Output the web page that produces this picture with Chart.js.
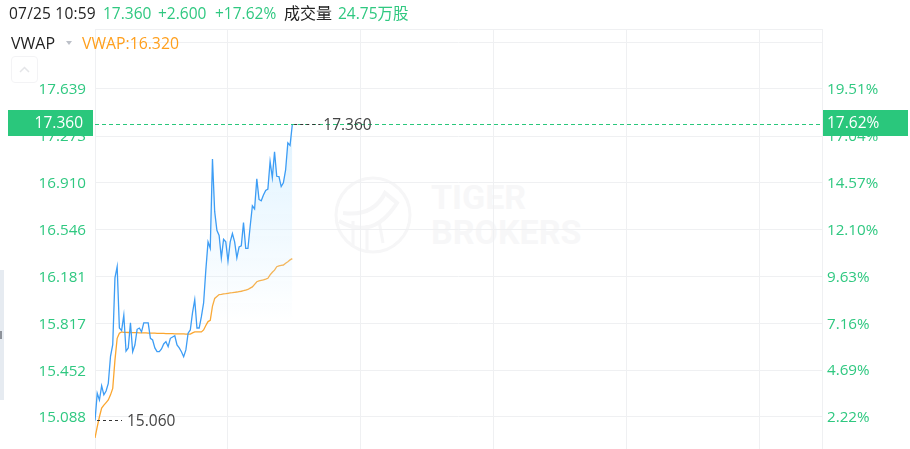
<!DOCTYPE html>
<html>
<head>
<meta charset="utf-8">
<script src="https://cdn.jsdelivr.net/npm/chart.js@4"></script>
<style>
  html, body { margin: 0; padding: 0; background: #fff; overflow: hidden; }
  body { width: 910px; height: 449px; position: relative; font-family: "Open Sans", "Noto Sans CJK SC", sans-serif; }
  canvas { position: absolute; left: 0; top: 0; }
  .abs { position: absolute; white-space: nowrap; line-height: 20px; }
  .head { top: 3px; font-size: 15.5px; color: #222; }
  .up { color: #2fc880; }
  #name { left: 11px; top: 33px; font-size: 16px; color: #222; }
  #vwap { left: 82px; top: 33px; font-size: 15.8px; color: #ff9f1c; }
  #caret { left: 66px; top: 41px; width: 0; height: 0; border: 3.5px solid transparent; border-top: 4px solid #bcc0c8; }
  #toggle { left: 11px; top: 56px; width: 25px; height: 25px; border: 1px solid #f3f3f5; border-radius: 4px; }
  #side { left: 0; top: 270px; width: 4px; height: 130px; background: #e6ebf1; }
  #notch { left: 0; top: 331px; width: 2px; height: 8px; background: #8d929a; }
  .mark { font-family: Roboto, sans-serif; font-weight: 700; font-size: 34px; letter-spacing: 0; color: #f7f7f8; line-height: 36px; }
</style>
</head>
<body>
<svg class="abs" style="left:333px;top:175px" width="82" height="82" fill="none" stroke="#f6f6f7" stroke-width="3">
  <circle cx="40" cy="40" r="37"/>
  <path d="M6 46 Q40 66 64 28 L52 18 Q40 42 10 38" stroke-width="4"/>
  <path d="M20 46 V72 M34 50 V76 M46 46 L50 68"/>
</svg>
<div class="abs mark" style="left:431px;top:179px">TIGER</div>
<div class="abs mark" style="left:431px;top:214px">BROKERS</div>
<canvas id="chart" width="910" height="449"></canvas>
<div class="abs head" style="left:9px;letter-spacing:0.2px">07/25 10:59</div>
<div class="abs head up" style="left:103px">17.360</div>
<div class="abs head up" style="left:158px">+2.600</div>
<div class="abs head up" style="left:215px">+17.62%</div>
<div class="abs head" style="left:284px;font-size:16px">成交量</div>
<div class="abs head up" style="left:338px">24.75万股</div>
<div class="abs" id="name">VWAP</div>
<div class="abs" id="caret"></div>
<div class="abs" id="vwap">VWAP:16.320</div>
<div class="abs" id="toggle">
  <svg width="25" height="25" fill="none" stroke="#e4e5e8" stroke-width="1.5"><path d="M8 15 L12.5 10.5 L17 15"/></svg>
</div>
<div class="abs" id="side"></div>
<div class="abs" id="notch"></div>
<script>
// minute by minute from the open
const prices = [
  15.06, 15.272, 15.22, 15.33, 15.26, 15.29, 15.35, 15.56, 15.65, 16.17,
  16.257, 15.78, 15.76, 15.88, 15.6, 15.625, 15.82, 15.596, 15.648, 15.77,
  15.78, 15.75, 15.82, 15.82, 15.82, 15.7, 15.687, 15.625, 15.596, 15.596,
  15.617, 15.656, 15.674, 15.635, 15.7, 15.71, 15.72, 15.648, 15.625, 15.596,
  15.557, 15.61, 15.74, 15.765, 15.9, 16.0, 15.78, 15.78, 15.868, 15.975,
  16.23, 16.45, 16.4, 17.095, 16.685, 16.54, 16.5, 16.325, 16.47, 16.45,
  16.3, 16.45, 16.515, 16.45, 16.325, 16.41, 16.42, 16.6, 16.4, 16.4,
  16.57, 16.73, 16.706, 16.94, 16.78, 16.77, 16.815, 16.85, 16.86, 17.075,
  16.95, 17.15, 16.96, 16.957, 16.88, 16.91, 17.01, 17.22, 17.2, 17.36
];
const vwapValues = [
  14.925, 15.012, 15.09, 15.158, 15.18, 15.2, 15.22, 15.26, 15.31, 15.53,
  15.7, 15.74, 15.75, 15.746, 15.746, 15.745, 15.745, 15.744, 15.744, 15.744,
  15.743, 15.743, 15.742, 15.742, 15.741, 15.741, 15.74, 15.74, 15.739, 15.739,
  15.738, 15.738, 15.737, 15.737, 15.736, 15.736, 15.735, 15.735, 15.734, 15.734,
  15.734, 15.733, 15.733, 15.733, 15.742, 15.75, 15.75, 15.75, 15.75, 15.765,
  15.8, 15.83, 15.84, 15.95, 16.01, 16.025, 16.04, 16.042, 16.045, 16.047,
  16.05, 16.053, 16.055, 16.058, 16.06, 16.063, 16.066, 16.07, 16.075, 16.08,
  16.09, 16.1, 16.12, 16.14, 16.146, 16.15, 16.154, 16.16, 16.167, 16.193,
  16.214, 16.23, 16.257, 16.263, 16.268, 16.27, 16.284, 16.296, 16.31, 16.32
];
const leftTicks = [15.088, 15.452, 15.817, 16.181, 16.546, 16.91, 17.273, 17.639, 18.003, 18.1056];
const leftLabels = ['15.088', '15.452', '15.817', '16.181', '16.546', '16.910', '17.273', '17.639', '', ''];
const rightTicks = [2.22, 4.69, 7.16, 9.63, 12.1, 14.57, 17.04, 19.51];
const rightLabels = ['2.22%', '4.69%', '7.16%', '9.63%', '12.10%', '14.57%', '17.04%', '19.51%'];
const timeTicks = [0, 60, 120, 180, 240, 300, 328];

const lastPrice = 17.36;
const lowPrice = 15.06;
const lastPct = '17.62%';
const prevClose = 14.76;
const minY = 14.8391, maxY = 18.1056;

const green = '#2ac77c';
const gridColor = '#eff0f2';

// dashed price lines, the end labels and the two green tags
const overlay = {
  id: 'overlay',
  afterDraw(chart) {
    const { ctx, chartArea: a, scales: { x, y } } = chart;
    const lastY = Math.floor(y.getPixelForValue(lastPrice)) + 0.5;
    const lowY = Math.floor(y.getPixelForValue(lowPrice)) + 0.5;
    const endX = x.getPixelForValue(prices.length - 1);
    ctx.save();
    ctx.lineWidth = 1;
    ctx.strokeStyle = green;
    ctx.setLineDash([4, 3]);
    ctx.beginPath();
    ctx.moveTo(a.left, lastY); ctx.lineTo(a.right, lastY);
    ctx.stroke();
    ctx.strokeStyle = '#333';
    ctx.setLineDash([3, 3]);
    ctx.beginPath();
    ctx.moveTo(endX + 2, lastY); ctx.lineTo(endX + 28, lastY);
    ctx.moveTo(a.left + 2, lowY); ctx.lineTo(a.left + 27, lowY);
    ctx.stroke();
    ctx.setLineDash([]);

    ctx.font = '15.5px "Open Sans"';
    ctx.textBaseline = 'middle';
    ctx.fillStyle = '#444';
    ctx.textAlign = 'left';
    ctx.fillText(lastPrice.toFixed(3), endX + 31, lastY + 1);
    ctx.fillText(lowPrice.toFixed(3), a.left + 32, lowY + 1);

    ctx.fillStyle = green;
    ctx.fillRect(8, lastY - 14.5, 85, 26);
    ctx.fillRect(a.right + 1, lastY - 14.5, 85, 26);
    ctx.fillStyle = '#fff';
    ctx.textAlign = 'right';
    ctx.fillText(lastPrice.toFixed(3), 83, lastY - 0.5);
    ctx.textAlign = 'left';
    ctx.fillText(lastPct, a.right + 5, lastY - 0.5);
    ctx.restore();
  }
};

new Chart(document.getElementById('chart'), {
  type: 'line',
  data: {
    datasets: [
      {
        label: 'Price',
        data: prices.map((v, i) => ({ x: i, y: v })),
        borderColor: '#3d9df5',
        borderWidth: 1.3,
        pointRadius: 0,
        tension: 0,
        fill: 'start',
        backgroundColor(c) {
          const g = c.chart.ctx.createLinearGradient(0, 125, 0, 325);
          g.addColorStop(0, 'rgba(214,239,255,0.75)');
          g.addColorStop(1, 'rgba(214,239,255,0)');
          return g;
        }
      },
      {
        label: 'VWAP',
        data: vwapValues.map((v, i) => ({ x: i, y: v })),
        borderColor: '#fba62f',
        borderWidth: 1.3,
        pointRadius: 0,
        tension: 0
      }
    ]
  },
  options: {
    responsive: false,
    animation: false,
    layout: { padding: { top: 29, left: 0, right: 0, bottom: 0 } },
    plugins: { legend: { display: false }, tooltip: { enabled: false } },
    scales: {
      x: {
        type: 'linear',
        min: 0,
        max: 328,
        afterBuildTicks(s) { s.ticks = timeTicks.map(v => ({ value: v })); },
        afterFit(s) { s.height = 0; s.paddingBottom = 0; s.paddingTop = 0; },
        ticks: { display: false },
        grid: { color: gridColor, drawTicks: false },
        border: { display: false }
      },
      y: {
        position: 'left',
        min: minY,
        max: maxY,
        afterBuildTicks(s) { s.ticks = leftTicks.map(v => ({ value: v })); },
        afterFit(s) { s.width = 95; s.paddingBottom = 0; s.paddingTop = 0; },
        ticks: {
          autoSkip: false,
          padding: 9,
          labelOffset: 1,
          color: '#2fc880',
          font: { family: 'Open Sans', size: 15.2 },
          callback: (v, i) => leftLabels[i]
        },
        grid: { color: gridColor, drawTicks: false },
        border: { display: false }
      },
      y1: {
        position: 'right',
        min: (minY / prevClose - 1) * 100,
        max: (maxY / prevClose - 1) * 100,
        afterBuildTicks(s) { s.ticks = rightTicks.map(v => ({ value: v })); },
        afterFit(s) { s.width = 88; s.paddingBottom = 0; s.paddingTop = 0; },
        ticks: {
          autoSkip: false,
          padding: 5,
          labelOffset: 1,
          color: '#2fc880',
          font: { family: 'Open Sans', size: 15.2 },
          callback: (v, i) => rightLabels[i]
        },
        grid: { display: false, drawTicks: false },
        border: { display: false }
      }
    }
  },
  plugins: [overlay]
});
</script>
</body>
</html>
